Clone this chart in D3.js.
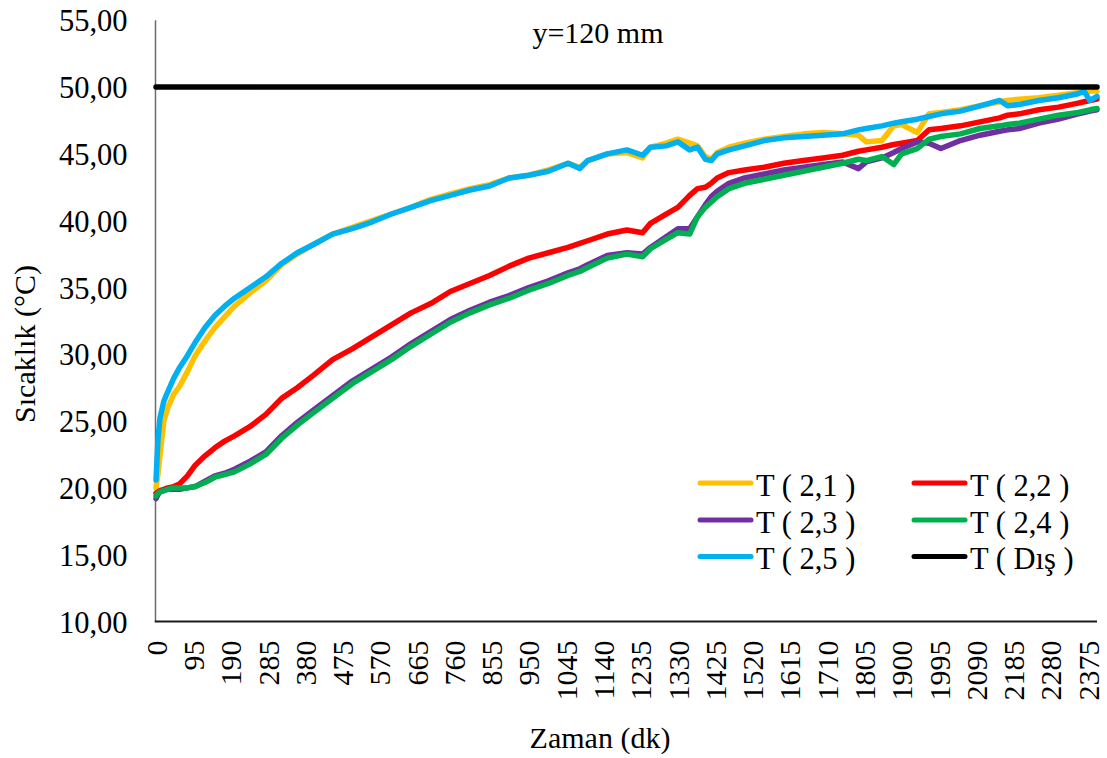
<!DOCTYPE html>
<html>
<head>
<meta charset="utf-8">
<script src="https://cdn.jsdelivr.net/npm/d3@7"></script>
<style>
  html, body { margin: 0; padding: 0; background: #fff; }
</style>
</head>
<body>
<svg id="chart" width="1107" height="758"></svg>
<script>
// Sample times (minutes)
const minutes = [0, 5, 10, 20, 30, 45, 60, 80, 100, 125, 150, 175, 200, 240, 280, 320, 360, 400, 450, 500,
  550, 600, 650, 700, 750, 800, 850, 900, 950, 1000, 1050, 1080, 1100, 1150, 1200, 1240, 1260, 1300, 1330, 1360,
  1380, 1400, 1415, 1430, 1460, 1500, 1550, 1600, 1650, 1700, 1750, 1790, 1810, 1850, 1880, 1900, 1940, 1970, 2000, 2050,
  2100, 2150, 2170, 2200, 2250, 2300, 2350, 2365, 2380, 2398];

// Temperatures (°C) per sensor
const t21 = [20.0, 21.0, 22.4, 25.0, 26.0, 27.0, 27.6, 28.7, 29.9, 31.0, 32.0, 32.8, 33.6, 34.6, 35.5, 36.7, 37.5, 38.2, 39.0, 39.5,
  40.0, 40.5, 41.0, 41.6, 42.0, 42.4, 42.7, 43.2, 43.4, 43.8, 44.3, 44.0, 44.5, 45.0, 45.1, 44.7, 45.5, 45.8, 46.1, 45.8,
  45.6, 44.8, 44.6, 45.1, 45.5, 45.8, 46.1, 46.3, 46.5, 46.6, 46.5, 46.4, 45.9, 46.0, 47.1, 47.2, 46.6, 48.0, 48.1, 48.3,
  48.6, 48.9, 49.0, 49.1, 49.2, 49.4, 49.6, 49.6, 49.7, 49.7];
const t22 = [19.6, 19.7, 19.8, 19.9, 20.0, 20.1, 20.3, 20.9, 21.7, 22.4, 23.0, 23.5, 23.9, 24.6, 25.5, 26.7, 27.5, 28.4, 29.6, 30.4,
  31.3, 32.2, 33.1, 33.8, 34.7, 35.3, 35.9, 36.6, 37.2, 37.6, 38.0, 38.3, 38.5, 39.0, 39.3, 39.1, 39.8, 40.5, 41.0, 41.9,
  42.4, 42.5, 42.8, 43.2, 43.6, 43.8, 44.0, 44.3, 44.5, 44.7, 44.9, 45.2, 45.3, 45.5, 45.7, 45.8, 46.0, 46.8, 46.9, 47.1,
  47.4, 47.7, 47.9, 48.0, 48.3, 48.5, 48.8, 48.9, 49.0, 49.1];
const t23 = [19.2, 19.5, 19.7, 19.8, 19.9, 19.9, 19.9, 20.0, 20.1, 20.5, 20.9, 21.1, 21.4, 22.0, 22.7, 23.9, 24.9, 25.8, 26.9, 28.0,
  28.9, 29.8, 30.8, 31.7, 32.6, 33.3, 33.9, 34.4, 35.0, 35.5, 36.1, 36.4, 36.7, 37.4, 37.6, 37.5, 38.0, 38.8, 39.4, 39.4,
  40.3, 41.2, 41.8, 42.2, 42.8, 43.2, 43.5, 43.8, 44.0, 44.2, 44.4, 43.9, 44.4, 44.7, 45.1, 45.4, 45.9, 45.8, 45.4, 46.0,
  46.4, 46.7, 46.8, 46.9, 47.3, 47.6, 48.0, 48.1, 48.2, 48.3];
const t24 = [19.4, 19.6, 19.7, 19.8, 19.9, 20.0, 20.0, 20.0, 20.1, 20.4, 20.8, 21.0, 21.2, 21.8, 22.5, 23.7, 24.7, 25.6, 26.7, 27.8,
  28.7, 29.6, 30.6, 31.5, 32.4, 33.1, 33.7, 34.2, 34.8, 35.3, 35.9, 36.2, 36.5, 37.2, 37.5, 37.3, 37.9, 38.6, 39.1, 39.0,
  40.3, 41.0, 41.4, 41.8, 42.4, 42.8, 43.1, 43.4, 43.7, 44.0, 44.3, 44.6, 44.5, 44.8, 44.2, 45.0, 45.4, 46.1, 46.3, 46.5,
  46.9, 47.1, 47.2, 47.3, 47.6, 47.9, 48.1, 48.2, 48.3, 48.4];
const t25 = [20.6, 23.6, 25.2, 26.5, 27.2, 28.2, 29.0, 29.9, 30.9, 32.0, 32.9, 33.6, 34.2, 35.0, 35.8, 36.8, 37.6, 38.2, 39.0, 39.4,
  39.9, 40.5, 41.0, 41.5, 41.9, 42.3, 42.6, 43.2, 43.4, 43.7, 44.3, 43.9, 44.5, 45.0, 45.3, 44.9, 45.5, 45.6, 45.9, 45.3,
  45.5, 44.6, 44.5, 45.0, 45.3, 45.6, 46.0, 46.2, 46.3, 46.4, 46.5, 46.8, 46.9, 47.1, 47.3, 47.4, 47.6, 47.8, 48.0, 48.2,
  48.6, 49.0, 48.6, 48.7, 49.0, 49.2, 49.5, 49.7, 49.0, 49.3];
// Outside temperature (held constant)
const tDisMinutes = [0, 2398];
const tDis = [50.0, 50.0];

const seriesNames = ["T ( 2,1 )", "T ( 2,2 )", "T ( 2,3 )", "T ( 2,4 )", "T ( 2,5 )", "T ( Dış )"];
const seriesColors = ["#FFC000", "#FF0000", "#7030A0", "#00B050", "#00B0F0", "#000000"];

const yTicks = [10, 15, 20, 25, 30, 35, 40, 45, 50, 55];
const xTicks = [0, 95, 190, 285, 380, 475, 570, 665, 760, 855, 950, 1045, 1140, 1235, 1330, 1425, 1520, 1615,
  1710, 1805, 1900, 1995, 2090, 2185, 2280, 2375];

const titleText = "y=120 mm";
const yTitle = "Sıcaklık (°C)";
const xTitle = "Zaman (dk)";

const FONT = "'Liberation Serif', 'Times New Roman', serif";

// ---- layout ----
const plot = { left: 155.5, right: 1097, top: 20.3, bottom: 621.5 };
const svg = d3.select("#chart");

const x = d3.scaleLinear().domain([0, 2398]).range([plot.left + 0.5, plot.right]);
const y = d3.scaleLinear().domain([10, 55]).range([plot.bottom, plot.top]);

const fmt = d3.formatLocale({ decimal: ",", thousands: ".", grouping: [3], currency: ["", ""] }).format(".2f");

// y axis labels
const yAxis = svg.append("g")
  .attr("transform", `translate(${plot.left},0)`)
  .call(d3.axisLeft(y).tickValues(yTicks).tickSize(0).tickPadding(28).tickFormat(fmt));
yAxis.attr("font-family", FONT);
yAxis.select(".domain").remove();
yAxis.selectAll("text")
  .attr("font-size", 30.5)
  .attr("fill", "#000")
  .attr("dy", "0.35em");

// x axis labels
const xAxis = svg.append("g")
  .attr("transform", `translate(0,${plot.bottom})`)
  .call(d3.axisBottom(x).tickValues(xTicks).tickSize(0).tickFormat(d => String(d)));
xAxis.attr("font-family", FONT);
xAxis.select(".domain").remove();
xAxis.selectAll("text")
  .attr("font-size", 30)
  .attr("fill", "#000")
  .attr("text-anchor", "end")
  .attr("transform", "rotate(-90)")
  .attr("x", -19)
  .attr("y", 0)
  .attr("dy", "0.34em");

// axis lines
svg.append("line")
  .attr("x1", plot.left).attr("x2", plot.left)
  .attr("y1", plot.top).attr("y2", plot.bottom)
  .attr("stroke", "#6b6b6b").attr("stroke-width", 1.5);
svg.append("line")
  .attr("x1", plot.left - 0.75).attr("x2", plot.right)
  .attr("y1", plot.bottom).attr("y2", plot.bottom)
  .attr("stroke", "#1a1a1a").attr("stroke-width", 2);

// series
const line = d3.line().x(d => x(d[0])).y(d => y(d[1])).curve(d3.curveLinear);
const seriesData = [t21, t22, t23, t24, t25].map(vals => minutes.map((m, i) => [m, vals[i]]));
seriesData.push(tDisMinutes.map((m, i) => [m, tDis[i]]));

svg.append("g").selectAll("path")
  .data(seriesData)
  .join("path")
  .attr("d", line)
  .attr("fill", "none")
  .attr("stroke", (d, i) => seriesColors[i])
  .attr("stroke-width", 5.5)
  .attr("stroke-linejoin", "round")
  .attr("stroke-linecap", "round");

// text helper
function label(sel, size) {
  return sel.attr("font-family", FONT).attr("font-size", size).attr("fill", "#000");
}

// title
label(svg.append("text"), 30)
  .attr("x", 598).attr("y", 43)
  .attr("text-anchor", "middle")
  .text(titleText);

// axis titles
label(svg.append("text"), 30)
  .attr("transform", "translate(35,344) rotate(-90)")
  .attr("text-anchor", "middle")
  .text(yTitle);
label(svg.append("text"), 30)
  .attr("x", 600).attr("y", 748)
  .attr("text-anchor", "middle")
  .text(xTitle);

// legend
const legendCols = [698, 912];
const legendRows = [483, 520, 556.5];
const legend = svg.append("g");
seriesNames.forEach((name, i) => {
  const cx = legendCols[i % 2];
  const cy = legendRows[Math.floor(i / 2)];
  legend.append("line")
    .attr("x1", cx + 2).attr("x2", cx + 53)
    .attr("y1", cy).attr("y2", cy)
    .attr("stroke", seriesColors[i])
    .attr("stroke-width", 5)
    .attr("stroke-linecap", "round");
  label(legend.append("text"), 30.5)
    .attr("x", cx + 58).attr("y", cy + 12.5)
    .text(name);
});
</script>
</body>
</html>
